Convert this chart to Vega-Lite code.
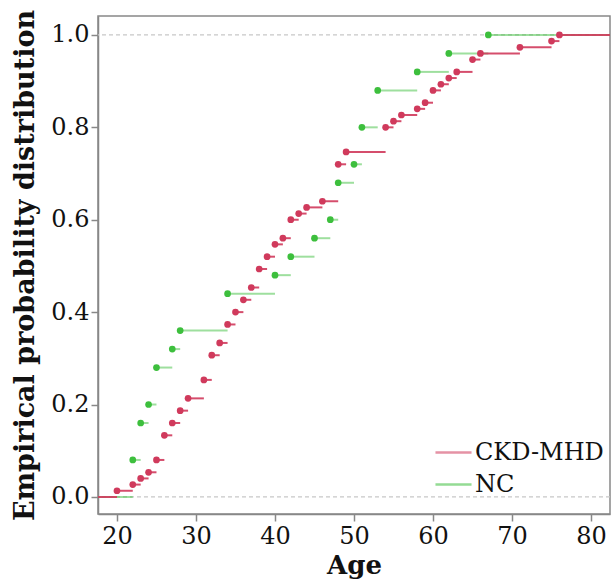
{
  "$schema": "https://vega.github.io/schema/vega-lite/v6.json",
  "width": 512,
  "height": 498,
  "autosize": {"type": "none"},
  "padding": {"left": 98, "top": 16, "right": 2, "bottom": 71},
  "background": "white",
  "config": {
    "view": {"stroke": "#888888", "strokeWidth": 1.5},
    "font": "DejaVu Serif",
    "axis": {
      "labelFont": "DejaVu Serif",
      "titleFont": "DejaVu Serif",
      "labelColor": "#111111",
      "titleColor": "#111111",
      "domainColor": "#888888",
      "domainWidth": 1.5,
      "tickColor": "#888888",
      "tickWidth": 1.5,
      "tickSize": 7,
      "grid": false,
      "titleFontWeight": "bold"
    },
    "legend": {
      "title": null,
      "orient": "none",
      "legendX": 336,
      "legendY": 417,
      "symbolType": "stroke",
      "symbolSize": 1300,
      "symbolStrokeWidth": 2.5,
      "symbolOpacity": 0.55,
      "labelFont": "DejaVu Serif",
      "labelFontSize": 24,
      "labelColor": "#111111",
      "labelOffset": 2,
      "rowPadding": -5
    }
  },
  "datasets": {
    "steps": [
      {"group": "NC", "age": 22, "next": 23, "p": 0.08},
      {"group": "NC", "age": 23, "next": 24, "p": 0.16},
      {"group": "NC", "age": 24, "next": 25, "p": 0.2},
      {"group": "NC", "age": 25, "next": 27, "p": 0.28},
      {"group": "NC", "age": 27, "next": 28, "p": 0.32},
      {"group": "NC", "age": 28, "next": 34, "p": 0.36},
      {"group": "NC", "age": 34, "next": 40, "p": 0.44},
      {"group": "NC", "age": 40, "next": 42, "p": 0.48},
      {"group": "NC", "age": 42, "next": 45, "p": 0.52},
      {"group": "NC", "age": 45, "next": 47, "p": 0.56},
      {"group": "NC", "age": 47, "next": 48, "p": 0.6},
      {"group": "NC", "age": 48, "next": 50, "p": 0.68},
      {"group": "NC", "age": 50, "next": 51, "p": 0.72},
      {"group": "NC", "age": 51, "next": 53, "p": 0.8},
      {"group": "NC", "age": 53, "next": 58, "p": 0.88},
      {"group": "NC", "age": 58, "next": 62, "p": 0.92},
      {"group": "NC", "age": 62, "next": 67, "p": 0.96},
      {"group": "NC", "age": 67, "next": 90, "p": 1.0},
      {"group": "CKD-MHD", "age": 20, "next": 22, "p": 0.0133},
      {"group": "CKD-MHD", "age": 22, "next": 23, "p": 0.0267},
      {"group": "CKD-MHD", "age": 23, "next": 24, "p": 0.04},
      {"group": "CKD-MHD", "age": 24, "next": 25, "p": 0.0533},
      {"group": "CKD-MHD", "age": 25, "next": 26, "p": 0.08},
      {"group": "CKD-MHD", "age": 26, "next": 27, "p": 0.1333},
      {"group": "CKD-MHD", "age": 27, "next": 28, "p": 0.16},
      {"group": "CKD-MHD", "age": 28, "next": 29, "p": 0.1867},
      {"group": "CKD-MHD", "age": 29, "next": 31, "p": 0.2133},
      {"group": "CKD-MHD", "age": 31, "next": 32, "p": 0.2533},
      {"group": "CKD-MHD", "age": 32, "next": 33, "p": 0.3067},
      {"group": "CKD-MHD", "age": 33, "next": 34, "p": 0.3333},
      {"group": "CKD-MHD", "age": 34, "next": 35, "p": 0.3733},
      {"group": "CKD-MHD", "age": 35, "next": 36, "p": 0.4},
      {"group": "CKD-MHD", "age": 36, "next": 37, "p": 0.4267},
      {"group": "CKD-MHD", "age": 37, "next": 38, "p": 0.4533},
      {"group": "CKD-MHD", "age": 38, "next": 39, "p": 0.4933},
      {"group": "CKD-MHD", "age": 39, "next": 40, "p": 0.52},
      {"group": "CKD-MHD", "age": 40, "next": 41, "p": 0.5467},
      {"group": "CKD-MHD", "age": 41, "next": 42, "p": 0.56},
      {"group": "CKD-MHD", "age": 42, "next": 43, "p": 0.6},
      {"group": "CKD-MHD", "age": 43, "next": 44, "p": 0.6133},
      {"group": "CKD-MHD", "age": 44, "next": 46, "p": 0.6267},
      {"group": "CKD-MHD", "age": 46, "next": 48, "p": 0.64},
      {"group": "CKD-MHD", "age": 48, "next": 49, "p": 0.72},
      {"group": "CKD-MHD", "age": 49, "next": 54, "p": 0.7467},
      {"group": "CKD-MHD", "age": 54, "next": 55, "p": 0.8},
      {"group": "CKD-MHD", "age": 55, "next": 56, "p": 0.8133},
      {"group": "CKD-MHD", "age": 56, "next": 58, "p": 0.8267},
      {"group": "CKD-MHD", "age": 58, "next": 59, "p": 0.84},
      {"group": "CKD-MHD", "age": 59, "next": 60, "p": 0.8533},
      {"group": "CKD-MHD", "age": 60, "next": 61, "p": 0.88},
      {"group": "CKD-MHD", "age": 61, "next": 62, "p": 0.8933},
      {"group": "CKD-MHD", "age": 62, "next": 63, "p": 0.9067},
      {"group": "CKD-MHD", "age": 63, "next": 65, "p": 0.92},
      {"group": "CKD-MHD", "age": 65, "next": 66, "p": 0.9467},
      {"group": "CKD-MHD", "age": 66, "next": 71, "p": 0.96},
      {"group": "CKD-MHD", "age": 71, "next": 75, "p": 0.9733},
      {"group": "CKD-MHD", "age": 75, "next": 76, "p": 0.9867},
      {"group": "CKD-MHD", "age": 76, "next": 90, "p": 1.0}
    ],
    "starts": [
      {"group": "NC", "age": 10, "next": 22, "p": 0},
      {"group": "CKD-MHD", "age": 10, "next": 20, "p": 0}
    ],
    "grid": [{"p": 0}, {"p": 1}]
  },
  "layer": [
    {
      "data": {"name": "grid"},
      "mark": {"type": "rule", "stroke": "#c8c8c8", "strokeDash": [4, 3], "strokeWidth": 1.2},
      "encoding": {
        "y": {"field": "p", "type": "quantitative", "scale": {"domain": [-0.037, 1.041], "nice": false}}
      }
    },
    {
      "data": {"name": "starts"},
      "mark": {"type": "rule", "strokeWidth": 2, "clip": true},
      "encoding": {
        "x": {"field": "age", "type": "quantitative"},
        "x2": {"field": "next"},
        "y": {"field": "p", "type": "quantitative"},
        "color": {"field": "group", "type": "nominal"},
        "strokeOpacity": {"condition": {"test": "datum.group === 'NC'", "value": 0.5}, "value": 0.9}
      }
    },
    {
      "data": {"name": "steps"},
      "mark": {"type": "rule", "strokeWidth": 2, "clip": true},
      "encoding": {
        "x": {"field": "age", "type": "quantitative"},
        "x2": {"field": "next"},
        "y": {"field": "p", "type": "quantitative"},
        "color": {"field": "group", "type": "nominal"},
        "strokeOpacity": {"condition": {"test": "datum.group === 'NC'", "value": 0.5}, "value": 0.9}
      }
    },
    {
      "data": {"name": "steps"},
      "mark": {"type": "point", "filled": true, "size": 45, "opacity": 1, "clip": true},
      "encoding": {
        "x": {
          "field": "age", "type": "quantitative",
          "scale": {"domain": [17.6, 82.4], "nice": false, "zero": false},
          "axis": {"values": [20, 30, 40, 50, 60, 70, 80], "title": "Age", "labelFontSize": 24, "titleFontSize": 26, "labelPadding": 3, "titlePadding": 4}
        },
        "y": {
          "field": "p", "type": "quantitative",
          "axis": {"values": [0, 0.2, 0.4, 0.6, 0.8, 1.0], "format": ".1f", "title": "Empirical probability distribution", "labelFontSize": 24, "titleFontSize": 27, "labelPadding": 2, "titlePadding": 11}
        },
        "color": {
          "field": "group", "type": "nominal",
          "scale": {"domain": ["CKD-MHD", "NC"], "range": ["#d03a5c", "#3dbf3d"]}
        }
      }
    }
  ]
}
